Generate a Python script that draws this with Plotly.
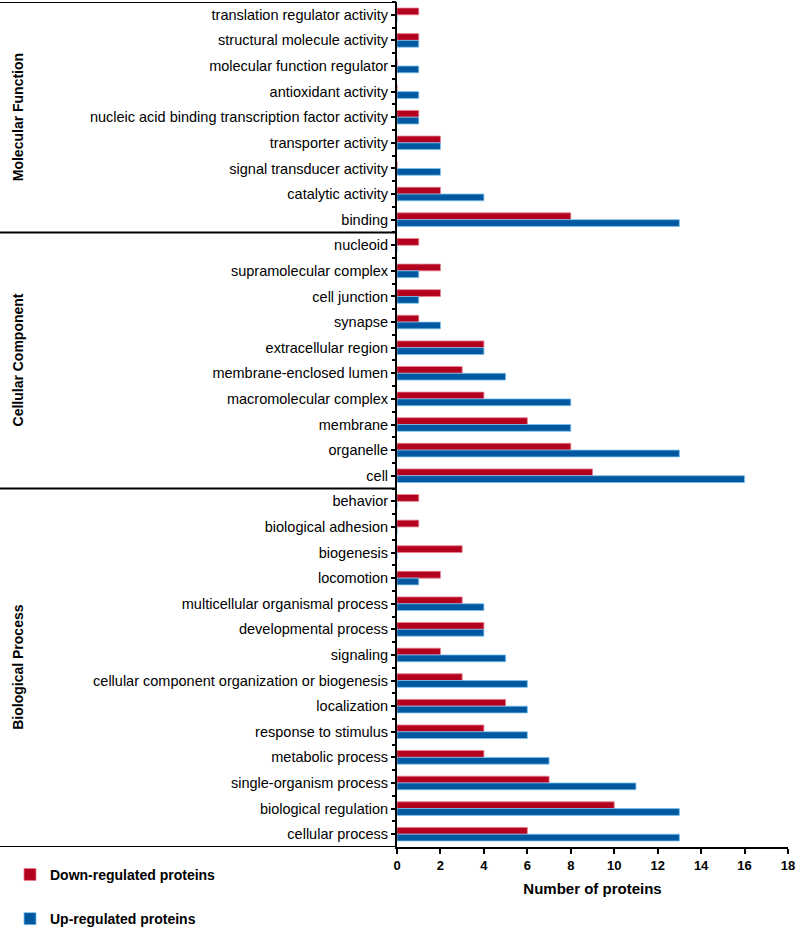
import plotly.graph_objects as go

# ---- data (top to bottom) ----
mf_cats = ["translation regulator activity", "structural molecule activity",
           "molecular function regulator", "antioxidant activity",
           "nucleic acid binding transcription factor activity", "transporter activity",
           "signal transducer activity", "catalytic activity", "binding"]
mf_down = [1, 1, 0, 0, 1, 2, 0, 2, 8]
mf_up = [0, 1, 1, 1, 1, 2, 2, 4, 13]

cc_cats = ["nucleoid", "supramolecular complex", "cell junction", "synapse",
           "extracellular region", "membrane-enclosed lumen", "macromolecular complex",
           "membrane", "organelle", "cell"]
cc_down = [1, 2, 2, 1, 4, 3, 4, 6, 8, 9]
cc_up = [0, 1, 1, 2, 4, 5, 8, 8, 13, 16]

bp_cats = ["behavior", "biological adhesion", "biogenesis", "locomotion",
           "multicellular organismal process", "developmental process", "signaling",
           "cellular component organization or biogenesis", "localization",
           "response to stimulus", "metabolic process", "single-organism process",
           "biological regulation", "cellular process"]
bp_down = [1, 1, 3, 2, 3, 4, 2, 3, 5, 4, 4, 7, 10, 6]
bp_up = [0, 0, 0, 1, 4, 4, 5, 6, 6, 6, 7, 11, 13, 13]

group_names = ["Molecular Function", "Cellular Component", "Biological Process"]
x_ticks = [0, 2, 4, 6, 8, 10, 12, 14, 16, 18]

categories = mf_cats + cc_cats + bp_cats
down = mf_down + cc_down + bp_down
up = mf_up + cc_up + bp_up
group_sizes = [len(mf_cats), len(cc_cats), len(bp_cats)]

RED = "#b3001e"
BLUE = "#0059a0"
FONT = "Liberation Sans, Arial, sans-serif"

n = len(categories)
y_range = [n - 0.5, -0.5]

fig = go.Figure()
fig.add_trace(go.Bar(y=categories, x=down, orientation="h", name="<b>Down-regulated proteins</b>",
                     marker=dict(color=RED, line=dict(color="#e8808e", width=0.8)),
                     legendgroup="d"))
fig.add_trace(go.Bar(y=categories, x=up, orientation="h", name="<b>Up-regulated proteins</b>",
                     marker=dict(color=BLUE, line=dict(color="#7cc0ee", width=0.8)),
                     legendgroup="u"))
# invisible helper trace so the overlay axis knows the categories (boundary ticks)
fig.add_trace(go.Scatter(y=categories, x=[0] * n, yaxis="y2", mode="markers",
                         marker=dict(opacity=0, size=1), showlegend=False, hoverinfo="skip"))

W, H = 800, 932
ml, mr, mt, mb = 397, 12, 2, 85
pw = W - ml - mr
x_left = -ml / pw

shapes = []
b = -0.5
bounds = [b]
for s in group_sizes:
    b += s
    bounds.append(b)
for yb in bounds:
    shapes.append(dict(type="line", xref="paper", yref="y", x0=x_left, x1=0, y0=yb, y1=yb,
                       line=dict(color="black", width=2)))

annotations = []
for i, g in enumerate(group_names):
    annotations.append(dict(text="<b>%s</b>" % g, xref="paper", yref="y",
                            x=(18 - ml) / pw, y=(bounds[i] + bounds[i + 1]) / 2,
                            textangle=-90, showarrow=False, xanchor="center", yanchor="middle",
                            font=dict(family=FONT, size=14, color="black")))

fig.update_layout(
    width=W, height=H,
    margin=dict(l=ml, r=mr, t=mt, b=mb, autoexpand=False),
    paper_bgcolor="white", plot_bgcolor="white",
    barmode="group", bargap=0.47, bargroupgap=0,
    font=dict(family=FONT, size=14, color="black"),
    showlegend=True,
    legend=dict(x=(10 - ml) / pw, y=-0.014, xanchor="left", yanchor="top",
                traceorder="grouped", tracegroupgap=23,
                font=dict(family=FONT, size=14, color="black"),
                bgcolor="rgba(0,0,0,0)"),
    xaxis=dict(range=[0, 18], tickvals=x_ticks, ticktext=["<b>%d</b>" % t for t in x_ticks],
               ticks="outside", ticklen=5, tickwidth=2, tickcolor="black",
               showline=True, linecolor="black", linewidth=2, showgrid=False, zeroline=False,
               tickfont=dict(family=FONT, size=13, color="black"),
               title=dict(text="<b>Number of proteins</b>", standoff=12,
                          font=dict(family=FONT, size=15, color="black"))),
    yaxis=dict(type="category", categoryorder="array", categoryarray=categories,
               range=y_range, autorange=False,
               ticks="outside", ticklen=4, tickwidth=2, tickcolor="black",
               showline=True, linecolor="black", linewidth=2, showgrid=False,
               tickfont=dict(family=FONT, size=14.5, color="black")),
    yaxis2=dict(type="category", categoryorder="array", categoryarray=categories,
                range=y_range, autorange=False,
                overlaying="y", side="left", tickson="boundaries",
                ticks="outside", ticklen=4, tickwidth=2, tickcolor="black",
                showticklabels=False, showline=False, showgrid=False),
    shapes=shapes,
    annotations=annotations,
)

fig.write_html("out.html", config={"displayModeBar": False},
               post_script="document.body.style.margin='0';document.body.style.padding='0';")
